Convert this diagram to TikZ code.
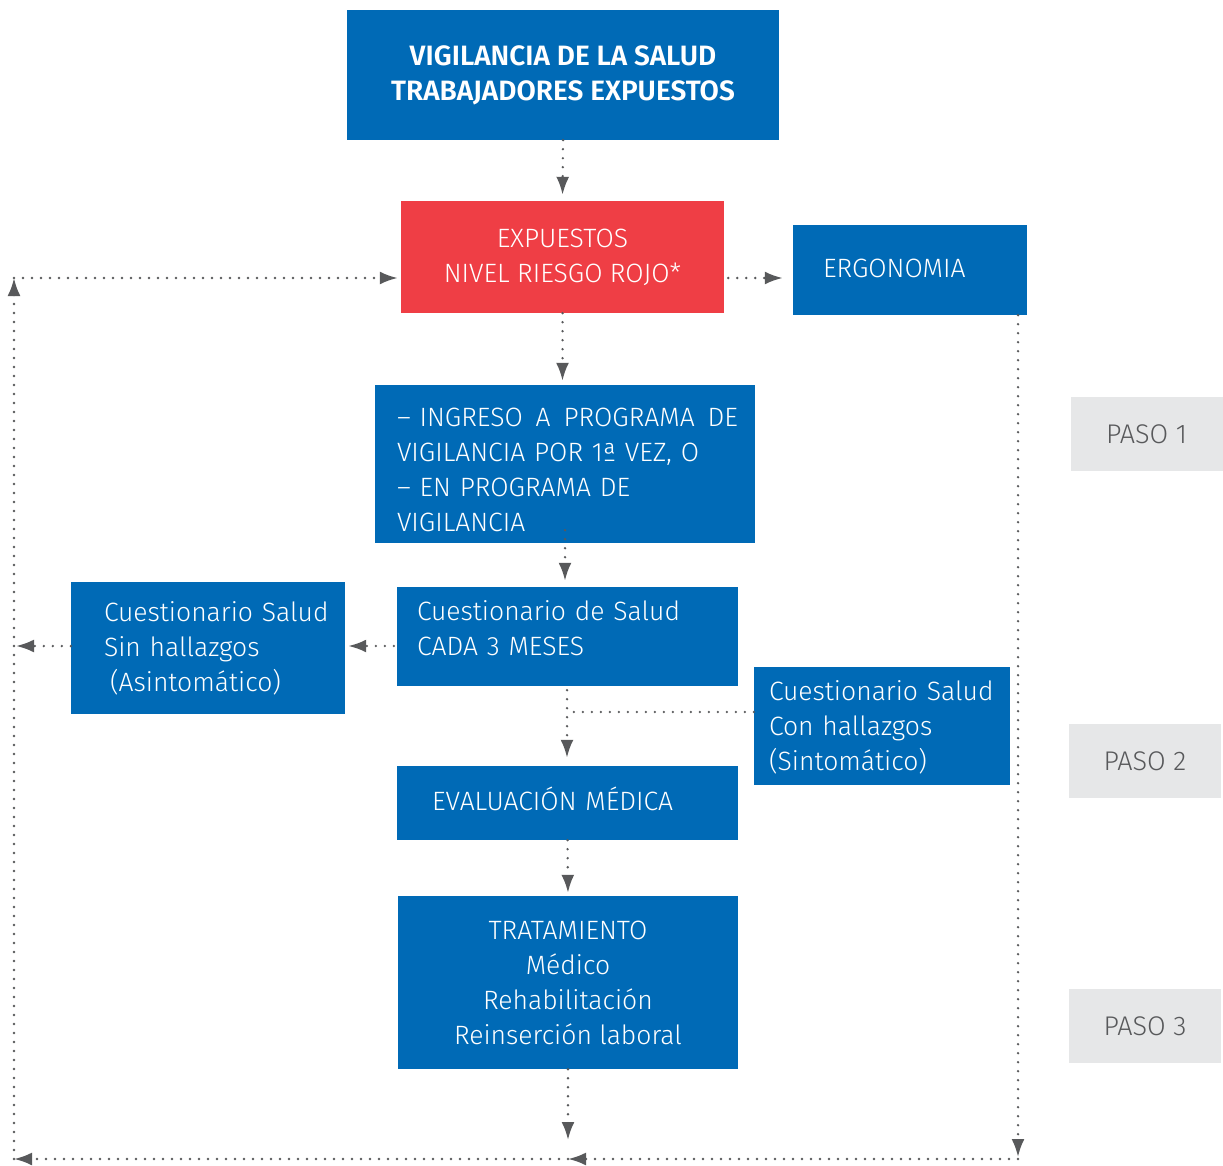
\documentclass[tikz,border=0pt]{standalone}
\usepackage{fontspec}
\setmainfont{Fira Sans Light}[BoldFont=Fira Sans SemiBold]
\usetikzlibrary{positioning,arrows.meta,calc}
\definecolor{azul}{HTML}{006AB6}
\definecolor{rojo}{HTML}{EF3E45}
\definecolor{gris}{HTML}{E6E7E8}
\definecolor{flecha}{HTML}{58595B}

\begin{document}
\begin{tikzpicture}[x=1pt, y=-1pt,
    caja/.style={rectangle, fill=azul, text=white, inner ysep=0pt,
                 font=\fontsize{26.5}{35}\selectfont},
    titulo/.style={caja, align=center, font=\fontsize{28}{35}\selectfont\bfseries},
    riesgo/.style={caja, fill=rojo, align=center},
    paso/.style={rectangle, fill=gris, text=flecha, minimum width=152pt,
                 minimum height=74pt, font=\fontsize{27}{30}\selectfont},
    dots/.style={draw=flecha, line width=2.6pt, line cap=round,
                 dash pattern=on 0pt off 9pt},
    arrow/.style={dots, -{Latex[length=18pt,width=13pt]}}
]
    \useasboundingbox (0,0) rectangle (1223,1166);

    % Upper layer
    \node[titulo, minimum width=432pt, minimum height=130pt] (vigilancia) at (563,75)
        {VIGILANCIA DE LA SALUD\\TRABAJADORES EXPUESTOS};
    \node[riesgo, minimum width=323pt, minimum height=112pt] (expuestos) at (562.5,257)
        {EXPUESTOS\\NIVEL RIESGO ROJO*};
    \node[caja, minimum height=90pt, text width=174pt, inner xsep=30pt, align=left] (ergo) at (910,270)
        {ERGONOMIA\par\vspace*{4pt}};

    % Program boxes
    \node[caja, minimum height=158pt, text width=336pt, inner xsep=22pt, align=left] (ingreso) at (565,464)
        {\makebox[341pt][l]{--~INGRESO\hfill A\hfill PROGRAMA\hfill DE}\\VIGILANCIA POR 1ª VEZ, O\\-- EN PROGRAMA DE\\VIGILANCIA\par\vspace*{-12pt}};
    \node[caja, minimum height=99pt, text width=301pt, inner xsep=20pt, align=left] (cuest) at (567.5,636.5)
        {Cuestionario de Salud\\CADA 3 MESES\par\vspace*{16pt}};
    \node[caja, minimum height=132pt, text width=208pt, inner xsep=33pt, align=left] (sin) at (208,648)
        {\mbox{Cuestionario Salud}\\Sin hallazgos\\\hspace*{6pt}(Asintomático)};
    \node[caja, minimum height=118pt, text width=226pt, inner xsep=15pt, align=left] (con) at (882,726)
        {Cuestionario Salud\\Con hallazgos\\(Sintomático)\par\vspace*{-2pt}};
    \node[caja, minimum height=74pt, text width=271pt, inner xsep=35pt, align=left] (eval) at (567.5,803)
        {EVALUACIÓN MÉDICA\par\vspace*{8pt}};
    \node[caja, minimum width=340pt, minimum height=173pt, align=center] (trat) at (568,982.5)
        {TRATAMIENTO\\Médico\\Rehabilitación\\Reinserción laboral};

    % Steps
    \node[paso] (paso1) at (1146.5,434) {PASO 1};
    \node[paso] (paso2) at (1145,761) {PASO 2};
    \node[paso] (paso3) at (1145,1026) {PASO 3};

    % Loop corners
    \coordinate (tl) at (14,278);
    \coordinate (bl) at (14,1159);
    \coordinate (bm) at (568,1159);
    \coordinate (br) at (1018,1159);
    \coordinate (mid) at (0,646);
    \coordinate (join) at (567,712);

    % Main flow arrows
    \draw[arrow, shorten >=6pt] (vigilancia.south) -- (expuestos.north);
    \draw[arrow, shorten >=4pt] (expuestos.south) -- (expuestos.south |- ingreso.north);
    \draw[arrow, shorten <=-13pt, shorten >=6pt] (ingreso.south) -- (ingreso.south |- cuest.north);
    \draw[arrow, shorten <=4pt, shorten >=8pt] (join |- cuest.south) -- (join |- eval.north);
    \draw[dots] (join -| con.west) -- (join);
    \draw[arrow, shorten >=3pt] (eval.south) -- (trat.north);
    \draw[arrow, shorten >=19pt] (trat.south) -- (bm);

    % Side arrows
    \draw[arrow, shorten <=3pt, shorten >=3pt] (mid -| cuest.west) -- (mid -| sin.east);
    \draw[arrow, shorten >=2pt] (mid -| sin.west) -- (mid -| tl);
    \draw[arrow, shorten <=4pt, shorten >=10pt] (tl -| expuestos.east) -- (tl -| ergo.west);

    % Return loop
    \draw[arrow, shorten >=2pt] (br |- ergo.south) -- (br);
    \draw[arrow] (br) -- (bm);
    \draw[arrow] (bm) -- (bl);
    \draw[arrow] (bl) -- (tl);
    \draw[arrow, shorten >=3pt] (tl) -- (tl -| expuestos.west);
\end{tikzpicture}
\end{document}
